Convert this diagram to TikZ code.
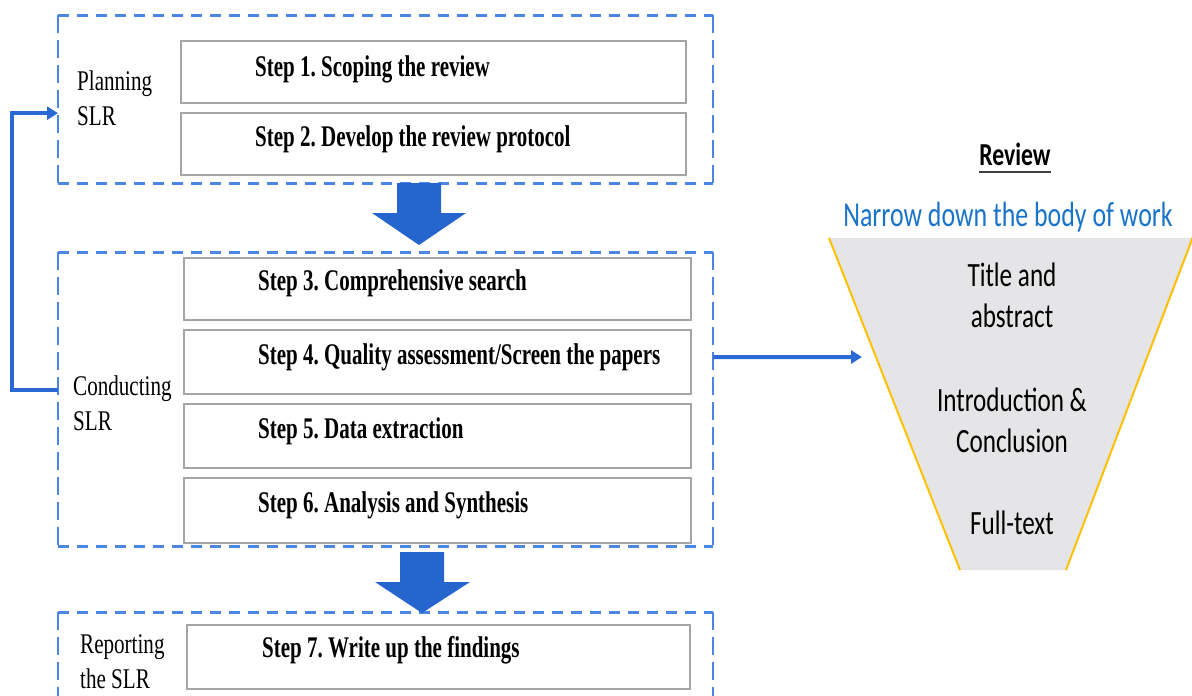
\documentclass[tikz,border=0pt]{standalone}
\usepackage{fontspec}
\usetikzlibrary{arrows.meta}
\frenchspacing

\newfontfamily\timesfont{Liberation Serif}[FakeStretch=0.74]
\newfontfamily\stepfont{Liberation Serif}[FakeStretch=0.70]
\newfontfamily\calfont{Carlito}[FakeStretch=0.74]

\definecolor{phaseblue}{RGB}{74,134,226}
\definecolor{arrowblue}{RGB}{38,100,206}
\definecolor{linkblue}{RGB}{42,104,212}
\definecolor{boxgray}{RGB}{165,165,165}
\definecolor{funnelgray}{RGB}{229,228,231}
\definecolor{funnelside}{RGB}{255,192,0}
\definecolor{narrowblue}{RGB}{25,115,200}

\tikzset{
  phasebox/.style={anchor=north west, inner sep=0, minimum width=655},
  hdash/.style={draw=phaseblue, line width=3pt, dash pattern=on 11pt off 8pt},
  vdash/.style={draw=phaseblue, line width=2pt, dash pattern=on 18pt off 7pt},
  stepbox/.style={draw=boxgray, line width=2pt, anchor=north west, inner sep=0,
    minimum width=505, minimum height=62},
  steptext/.style={anchor=base west, inner sep=0,
    font=\stepfont\bfseries\fontsize{30}{34}\selectfont},
  phasetext/.style={anchor=base west, inner sep=0, align=left,
    font=\timesfont\fontsize{28.5}{35}\selectfont},
  funneltext/.style={anchor=base, inner sep=0, align=center,
    font=\calfont\fontsize{34}{41}\selectfont},
  bigdown/.style={fill=arrowblue},
  linkline/.style={draw=linkblue, line width=4pt, -{Triangle[length=11pt,width=13pt]}},
}

\begin{document}
\begin{tikzpicture}[x=1pt,y=-1pt]
  \useasboundingbox (0,0) rectangle (1192,696);

  % phases
  \node[phasebox, minimum height=168] (plan) at (58,15) {};
  \node[phasebox, minimum height=294] (conduct) at (58,252) {};
  \node[phasebox, minimum height=100] (report) at (58,612) {};
  \foreach \ph in {plan,conduct,report} {
    \draw[hdash] (\ph.north west) -- (\ph.north east) (\ph.south west) -- (\ph.south east);
    \draw[vdash] (\ph.north west) -- (\ph.south west) (\ph.north east) -- (\ph.south east);
  }

  \node[phasetext] (plantxt) at (77,125) {Planning\\SLR};
  \node[phasetext] (condtxt) at (73,430) {Conducting\\SLR};
  \node[phasetext] (reptxt) at (80,688) {Reporting\\the SLR};

  % steps
  \node[stepbox] (s1) at (180,40) {};
  \node[stepbox] (s2) at (180,112) {};
  \node[stepbox, minimum width=507, minimum height=62] (s3) at (183,257) {};
  \node[stepbox, minimum width=507, minimum height=64] (s4) at (183,329) {};
  \node[stepbox, minimum width=507, minimum height=64] (s5) at (183,403) {};
  \node[stepbox, minimum width=507, minimum height=65] (s6) at (183,477) {};
  \node[stepbox, minimum width=503, minimum height=64] (s7) at (186,624) {};

  \node[steptext] (t1) at (255,76) {Step 1. Scoping the review};
  \node[steptext] (t2) at (255,146) {Step 2. Develop the review protocol};
  \node[steptext] (t3) at (258,290) {Step 3. Comprehensive search};
  \node[steptext] (t4) at (258,364) {Step 4. Quality assessment/Screen the papers};
  \node[steptext] (t5) at (258,438) {Step 5. Data extraction};
  \node[steptext] (t6) at (258,512) {Step 6. Analysis and Synthesis};
  \node[steptext] (t7) at (262,657) {Step 7. Write up the findings};

  % big arrows between phases
  \fill[bigdown] (397,183) -- (441,183) -- (441,213) -- (466,213) -- (419,245)
    -- (372,213) -- (397,213) -- cycle;
  \fill[bigdown] (400,552) -- (444,552) -- (444,582) -- (470,582) -- (422,613)
    -- (375,582) -- (400,582) -- cycle;

  % back to planning
  \draw[linkline] ([yshift=9pt]conduct.west) -- ++(-46,0) |- ([yshift=-14pt]plan.west);

  % funnel
  \fill[funnelgray] (829,238) -- (1194,238) -- (1066,570) -- (960,570) -- cycle;
  \draw[funnelside, line width=2pt] (829,238) -- (960,570);
  \draw[funnelside, line width=2pt] (1194,234) -- (1066,570);

  \coordinate (funnelin) at (862,357);
  \draw[linkline] ([yshift=42pt]conduct.east) -- (funnelin);

  \node[anchor=base, inner sep=0, font=\calfont\bfseries\fontsize{32}{38}\selectfont]
    (review) at (1015,165) {Review};
  \draw[line width=2.5pt, black!75] ([yshift=-7pt]review.base west) -- ([yshift=-7pt]review.base east);
  \node[anchor=base, inner sep=0, text=narrowblue, font=\calfont\fontsize{35}{40}\selectfont]
    (narrow) at (1008,226) {Narrow down the body of work};

  \node[funneltext] (f1) at (1012,327) {Title and\\abstract};
  \node[funneltext] (f2) at (1012,452) {Introduction \&\\Conclusion};
  \node[funneltext] (f3) at (1012,534) {Full-text};

\end{tikzpicture}
\end{document}
